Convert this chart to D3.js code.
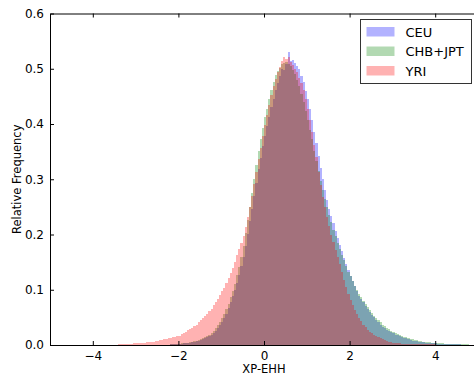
<!DOCTYPE html>
<html>
<head>
<meta charset="utf-8">
<script src="https://cdn.jsdelivr.net/npm/d3@7"></script>
<style>
  body { margin: 0; background: #fff; }
  svg { display: block; font-family: "DejaVu Sans", sans-serif; }
</style>
</head>
<body>
<div id="plot"></div>
<script>
// Histogram settings (bin width shared by all series)
const binWidth = 0.05;
const seriesNames = ["CEU", "CHB+JPT", "YRI"];
const seriesStarts = [-2.2, -2.2, -3.4];

// Relative frequency per bin
const ceu = [
  .001,.001,.001,.002,.002,.002,.003,.003,.004,.004,.005,.006,.007,.008,.009,.011,.012,.014,.016,.019,
  .022,.026,.030,.036,.042,.049,.057,.067,.077,.088,.100,.113,.127,.143,.160,.180,.201,.224,.247,.270,
  .293,.318,.338,.360,.378,.396,.412,.430,.446,.462,.474,.486,.499,.497,.509,.530,.514,.516,.510,.505,
  .500,.486,.476,.460,.446,.428,.408,.386,.365,.342,.320,.300,.280,.262,.247,.233,.220,.206,.193,.181,
  .170,.158,.147,.136,.125,.115,.106,.097,.089,.083,.077,.071,.066,.060,.055,.050,.045,.041,.037,.033,
  .030,.027,.025,.023,.021,.019,.018,.016,.015,.013,.012,.010,.009,.008,.007,.007,.006,.005,.005,.004,
  .004,.004,.003,.003,.003,.002,.002,.002,.002,.002,.001,.002,.001,.001,.001,.001
];

const chb = [
  .001,.001,.002,.002,.002,.003,.003,.004,.004,.005,.006,.007,.008,.009,.011,.012,.014,.016,.019,.022,
  .026,.030,.036,.042,.049,.056,.065,.075,.086,.098,.111,.126,.142,.160,.180,.202,.226,.250,.275,.300,
  .326,.352,.372,.392,.412,.428,.446,.462,.476,.488,.496,.502,.508,.510,.512,.508,.505,.498,.490,.480,
  .468,.455,.440,.424,.408,.390,.372,.352,.333,.315,.297,.280,.264,.249,.235,.222,.209,.197,.185,.174,
  .163,.153,.143,.133,.124,.115,.107,.099,.092,.086,.080,.074,.068,.063,.058,.053,.049,.045,.041,.037,
  .034,.031,.029,.026,.024,.022,.020,.018,.017,.015,.014,.013,.011,.010,.009,.009,.008,.007,.006,.006,
  .005,.005,.004,.004,.004,.003,.003,.003,.002,.002,.002,.002,.002,.001,.002,.001,.001,.001,.001,.001
];

const yri = [
  .001,.001,.001,.002,.002,.002,.002,.003,.003,.003,.004,.004,.004,.005,.005,.006,.006,.007,.008,.009,
  .009,.010,.011,.012,.013,.014,.015,.016,.017,.020,.022,.024,.027,.029,.031,.034,.037,.041,.045,.049,
  .052,.056,.061,.066,.072,.078,.084,.090,.097,.104,.112,.121,.130,.140,.151,.162,.173,.185,.198,.214,
  .232,.250,.270,.292,.314,.336,.356,.378,.398,.416,.434,.452,.468,.482,.494,.504,.514,.522,.518,.521,
  .512,.506,.500,.494,.484,.474,.462,.446,.428,.408,.386,.362,.340,.314,.290,.268,.250,.232,.216,.200,
  .186,.172,.160,.146,.132,.118,.105,.093,.082,.072,.064,.056,.049,.043,.037,.032,.027,.024,.021,.018,
  .016,.014,.012,.010,.009,.007,.006,.005,.004,.004,.003,.003,.002,.002,.002,.001,.001,.001,.001,.001,
  .001,.001,.001,.001,.001,.001,.001,.001
];

const seriesValues = [ceu, chb, yri];
const seriesColors = ["#0000ff", "#008000", "#ff0000"];

const xTicks = [-4, -2, 0, 2, 4];
const yTicks = [0.0, 0.1, 0.2, 0.3, 0.4, 0.5, 0.6];

// The SVG dimensions
const W = 474, H = 383;
const margin = {top: 13.5, left: 50};
const plotBottom = 345;

const x = d3.scaleLinear().domain([-5, 5]).range([margin.left, 478]);
const y = d3.scaleLinear().domain([0, 0.6]).range([plotBottom, margin.top]);

const svg = d3.select("#plot")
  .append("svg")
  .attr("width", W)
  .attr("height", H);

// Draw each histogram as semi transparent bars
seriesValues.forEach((vals, s) => {
  const bins = vals.map((v, i) => ({x0: seriesStarts[s] + i * binWidth, v: v}));
  svg.append("g")
    .attr("shape-rendering", "crispEdges")
    .selectAll("rect")
    .data(bins)
    .enter()
    .append("rect")
    .attr("x", d => x(d.x0))
    .attr("width", x(binWidth) - x(0))
    .attr("y", d => y(d.v))
    .attr("height", d => y(0) - y(d.v))
    .attr("fill", seriesColors[s])
    .attr("fill-opacity", 0.3);
});

// Axes, matplotlib classic style with ticks pointing inward
const xAxis = svg.append("g")
  .attr("transform", `translate(0,${plotBottom})`)
  .call(d3.axisBottom(x).tickValues(xTicks).tickSizeInner(-4).tickSizeOuter(0).tickPadding(6)
    .tickFormat(d => (d < 0 ? "\u2212" : "") + Math.abs(d)));

const xAxisTop = svg.append("g")
  .attr("transform", `translate(0,${margin.top})`)
  .call(d3.axisTop(x).tickValues(xTicks).tickSizeInner(-4).tickSizeOuter(0).tickFormat(""));

const yAxis = svg.append("g")
  .attr("transform", `translate(${margin.left},0)`)
  .call(d3.axisLeft(y).tickValues(yTicks).tickSizeInner(-4).tickSizeOuter(0).tickPadding(6)
    .tickFormat(d3.format(".1f")));

[xAxis, xAxisTop, yAxis].forEach(g => {
  g.select(".domain").attr("stroke", "#000").attr("stroke-width", 1);
  g.selectAll(".tick line").attr("stroke", "#000");
  g.selectAll("text").attr("font-size", 12).attr("fill", "#000")
    .attr("font-family", "DejaVu Sans, sans-serif");
});

// Axis labels
svg.append("text")
  .attr("x", x(0))
  .attr("y", 373)
  .attr("text-anchor", "middle")
  .attr("font-size", 11.5)
  .text("XP-EHH");

svg.append("text")
  .attr("transform", `translate(21,${(margin.top + plotBottom) / 2}) rotate(-90)`)
  .attr("text-anchor", "middle")
  .attr("font-size", 11.5)
  .text("Relative Frequency");

// Legend
const legend = svg.append("g").attr("transform", "translate(360.5,19.5)");
legend.append("rect")
  .attr("width", 111)
  .attr("height", 64)
  .attr("fill", "#fff")
  .attr("stroke", "#333");

seriesNames.forEach((name, i) => {
  const row = legend.append("g").attr("transform", `translate(0,${12 + i * 19.5})`);
  row.append("rect")
    .attr("x", 6)
    .attr("y", -4.5)
    .attr("width", 28)
    .attr("height", 9.5)
    .attr("fill", seriesColors[i])
    .attr("fill-opacity", 0.3);
  row.append("text")
    .attr("x", 45)
    .attr("y", 5)
    .attr("font-size", 13)
    .text(name);
});
</script>
</body>
</html>
